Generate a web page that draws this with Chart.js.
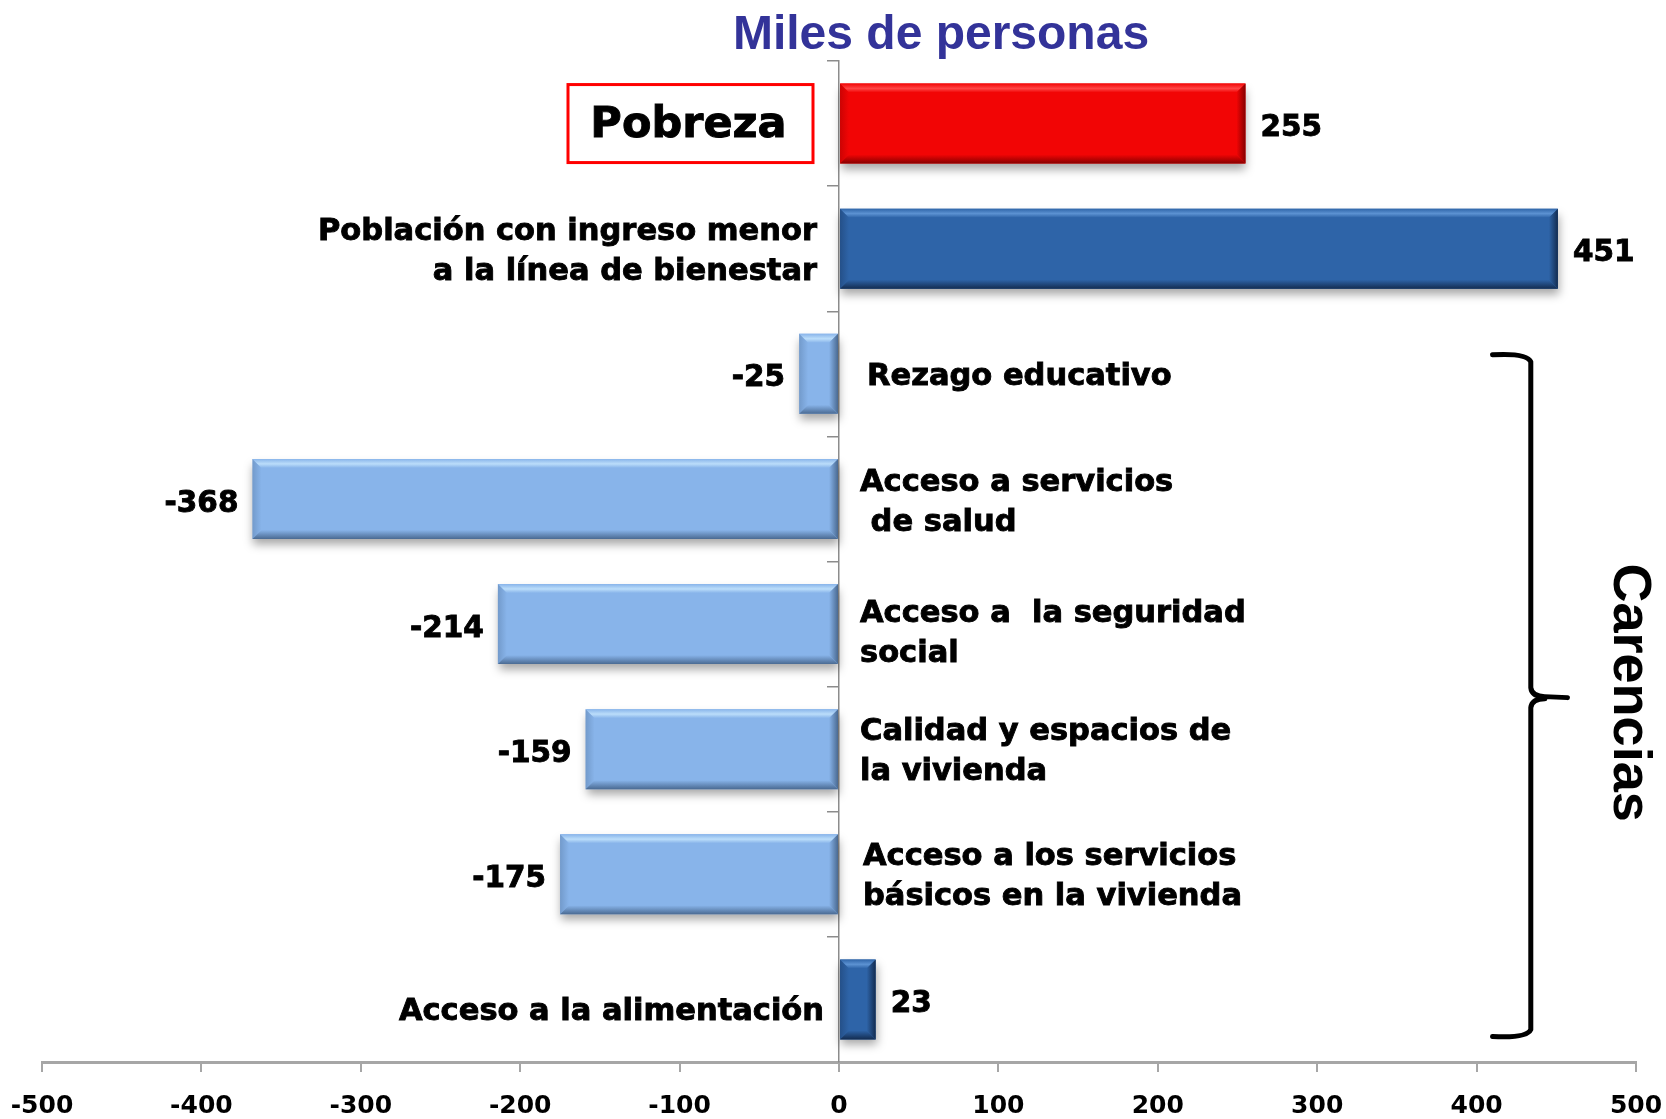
<!DOCTYPE html>
<html>
<head>
<meta charset="utf-8">
<script src="https://cdn.jsdelivr.net/npm/chart.js@4.4.0/dist/chart.umd.min.js"></script>
<style>
  html, body { margin: 0; padding: 0; background: #fff; }
</style>
</head>
<body>
<canvas id="chart" width="1666" height="1119"></canvas>
<script>
// Datos del gráfico
const categories = [
  ["Pobreza"],
  ["Población con ingreso menor", "a la línea de bienestar"],
  ["Rezago educativo"],
  ["Acceso a servicios", " de salud"],
  ["Acceso a  la seguridad", "social"],
  ["Calidad y espacios de", "la vivienda"],
  ["Acceso a los servicios", "básicos en la vivienda"],
  ["Acceso a la alimentación"]
];
const values = [255, 451, -25, -368, -214, -159, -175, 23];
const xTicks = [-500, -400, -300, -200, -100, 0, 100, 200, 300, 400, 500];
const titleText = "Miles de personas";
const groupText = "Carencias";

// Colores (cara, luz, sombra)
const faceColors  = ["#F20505", "#2E64A8", "#88B4EA", "#88B4EA", "#88B4EA", "#88B4EA", "#88B4EA", "#2E64A8"];
const lightColors = ["#FF4545", "#5C92D2", "#BBDDFA", "#BBDDFA", "#BBDDFA", "#BBDDFA", "#BBDDFA", "#5C92D2"];
const darkColors  = ["#850000", "#132C50", "#4A6A92", "#4A6A92", "#4A6A92", "#4A6A92", "#4A6A92", "#132C50"];
// desplazamiento de cada etiqueta respecto al eje
const labelGap = [0, 22, 28, 21, 21, 21, 24, 15];
const labelDy = [0, 3, 3, 4, 10, 3, 3, 13];

const FONT = '"DejaVu Sans", Verdana, sans-serif';
const FONT_TITLE = '"Liberation Sans", Arial, sans-serif';

// texto un poco más grueso (tipo Verdana Bold)
function boldText(ctx, txt, x, y) {
  ctx.lineWidth = 0.9;
  ctx.strokeStyle = ctx.fillStyle;
  ctx.strokeText(txt, x, y);
  ctx.fillText(txt, x, y);
}

function grad(ctx, x0, y0, x1, y1, stops) {
  const g = ctx.createLinearGradient(x0, y0, x1, y1);
  stops.forEach(s => g.addColorStop(s[0], s[1]));
  return g;
}

// Sombra + biselado de las barras
const bevelPlugin = {
  id: "bevel",
  beforeDatasetsDraw(chart) {
    const ctx = chart.ctx;
    ctx.save();
    ctx.shadowColor = "rgba(0,0,0,0.35)";
    ctx.shadowBlur = 9;
    ctx.shadowOffsetX = 1;
    ctx.shadowOffsetY = 6;
  },
  afterDatasetsDraw(chart) {
    const ctx = chart.ctx;
    ctx.restore();
    const meta = chart.getDatasetMeta(0);
    meta.data.forEach((bar, i) => {
      const p = bar.getProps(["x", "y", "base", "height"], true);
      const l = Math.min(p.x, p.base), r = Math.max(p.x, p.base);
      const t = p.y - p.height / 2, b = p.y + p.height / 2;
      const bv = 9;
      const f = faceColors[i], lt = lightColors[i], dk = darkColors[i];
      ctx.save();
      // arriba
      ctx.fillStyle = grad(ctx, 0, t, 0, t + bv, [[0, f], [0.55, lt], [1, f]]);
      ctx.beginPath();
      ctx.moveTo(l, t); ctx.lineTo(r, t); ctx.lineTo(r - bv, t + bv); ctx.lineTo(l + bv, t + bv); ctx.closePath();
      ctx.fill();
      // izquierda
      ctx.globalAlpha = 0.35;
      ctx.fillStyle = grad(ctx, l, 0, l + bv, 0, [[0, dk], [1, f]]);
      ctx.beginPath();
      ctx.moveTo(l, t); ctx.lineTo(l + bv, t + bv); ctx.lineTo(l + bv, b - bv); ctx.lineTo(l, b); ctx.closePath();
      ctx.fill();
      // derecha
      ctx.globalAlpha = 1;
      ctx.fillStyle = grad(ctx, r, 0, r - bv, 0, [[0, dk], [1, f]]);
      ctx.beginPath();
      ctx.moveTo(r, t); ctx.lineTo(r, b); ctx.lineTo(r - bv, b - bv); ctx.lineTo(r - bv, t + bv); ctx.closePath();
      ctx.fill();
      // abajo
      ctx.fillStyle = grad(ctx, 0, b, 0, b - bv, [[0, dk], [1, f]]);
      ctx.beginPath();
      ctx.moveTo(l, b); ctx.lineTo(r, b); ctx.lineTo(r - bv, b - bv); ctx.lineTo(l + bv, b - bv); ctx.closePath();
      ctx.fill();
      ctx.restore();
    });
  }
};

// Etiquetas, título, llave
const labelsPlugin = {
  id: "labels",
  afterDraw(chart) {
    const ctx = chart.ctx;
    const x = chart.scales.x, y = chart.scales.y;
    const zero = x.getPixelForValue(0);
    const meta = chart.getDatasetMeta(0);
    ctx.save();
    ctx.fillStyle = "#000";
    ctx.textBaseline = "middle";

    meta.data.forEach((bar, i) => {
      const v = values[i];
      const cy = y.getPixelForValue(i);
      // valor
      ctx.fillStyle = "#000";
      ctx.font = "bold 29.5px " + FONT;
      if (v >= 0) {
        ctx.textAlign = "left";
        boldText(ctx, String(v), bar.x + 15, cy + 5);
      } else {
        ctx.textAlign = "right";
        boldText(ctx, String(v), bar.x - 14, cy + 5);
      }
      // categoría
      const lines = categories[i];
      if (i === 0) {
        const bx = zero - 271, bw = 245, bh = 78;
        ctx.strokeStyle = "#FF0000";
        ctx.lineWidth = 3;
        ctx.strokeRect(bx, cy - bh / 2, bw, bh);
        ctx.font = "bold 43px " + FONT;
        ctx.textAlign = "center";
        boldText(ctx, lines[0], bx + bw / 2 - 2, cy + 2);
        return;
      }
      ctx.font = "bold 30.5px " + FONT;
      const lh = 40;
      const y0 = cy - (lines.length - 1) * lh / 2 + labelDy[i];
      lines.forEach((line, k) => {
        if (v >= 0) {
          ctx.textAlign = "right";
          boldText(ctx, line, zero - labelGap[i], y0 + k * lh);
        } else {
          ctx.textAlign = "left";
          boldText(ctx, line, zero + labelGap[i], y0 + k * lh);
        }
      });
    });

    // título
    ctx.fillStyle = "#333399";
    ctx.font = "bold 48px " + FONT_TITLE;
    ctx.textAlign = "center";
    ctx.textBaseline = "alphabetic";
    ctx.fillText(titleText, 941, 49);

    // llave de carencias
    const top = y.getPixelForValue(2) - 20;
    const bot = y.getPixelForValue(7) + 38;
    const mid = (top + bot) / 2 + 2;
    const x0 = x.getPixelForValue(410);
    const xv = x.getPixelForValue(434);
    const tip = x.getPixelForValue(457);
    ctx.strokeStyle = "#000";
    ctx.lineWidth = 5;
    ctx.lineCap = "round";
    ctx.lineJoin = "round";
    ctx.beginPath();
    ctx.moveTo(x0, top + 1);
    ctx.quadraticCurveTo(xv - 4, top - 1, xv, top + 8);
    ctx.lineTo(xv, mid - 10);
    ctx.quadraticCurveTo(xv + 1, mid - 1, xv + 14, mid - 1);
    ctx.lineTo(tip, mid);
    ctx.moveTo(xv + 14, mid + 1);
    ctx.quadraticCurveTo(xv + 1, mid + 1, xv, mid + 10);
    ctx.lineTo(xv, bot - 8);
    ctx.quadraticCurveTo(xv - 4, bot + 1, x0, bot - 1);
    ctx.stroke();

    // texto vertical
    ctx.save();
    ctx.translate(x.getPixelForValue(486), (top + bot) / 2 - 3);
    ctx.rotate(Math.PI / 2);
    ctx.fillStyle = "#000";
    ctx.font = "bold 54px " + FONT_TITLE;
    ctx.textAlign = "center";
    ctx.textBaseline = "alphabetic";
    ctx.fillText(groupText, 0, 0);
    ctx.restore();

    ctx.restore();
  }
};

new Chart(document.getElementById("chart"), {
  type: "bar",
  data: {
    labels: categories,
    datasets: [{
      data: values,
      backgroundColor: faceColors,
      borderWidth: 0,
      barPercentage: 0.64,
      categoryPercentage: 1
    }]
  },
  options: {
    indexAxis: "y",
    responsive: false,
    animation: false,
    devicePixelRatio: 1,
    layout: { padding: { top: 61, left: 42, right: 30, bottom: 0 } },
    plugins: { legend: { display: false }, tooltip: { enabled: false }, title: { display: false } },
    scales: {
      x: {
        min: -500,
        max: 500,
        afterBuildTicks(scale) { scale.ticks = xTicks.map(v => ({ value: v })); },
        afterFit(scale) {
          scale.height = 57;
          scale.paddingLeft = 0;
          scale.paddingRight = 0;
        },
        ticks: { color: "#000", font: { family: FONT, size: 25, weight: "bold", lineHeight: 1 }, padding: 22 },
        grid: { drawOnChartArea: false, drawTicks: true, tickLength: 10, color: "#A6A6A6", lineWidth: 2 },
        border: { color: "#A6A6A6", width: 3 }
      },
      y: {
        position: { x: 0 },
        ticks: { display: false },
        grid: { drawOnChartArea: false, drawTicks: true, tickLength: 11, offset: true, color: "#8C8C8C", lineWidth: 1.5 },
        border: { color: "#8C8C8C", width: 1.5 }
      }
    }
  },
  plugins: [bevelPlugin, labelsPlugin]
});
</script>
</body>
</html>
